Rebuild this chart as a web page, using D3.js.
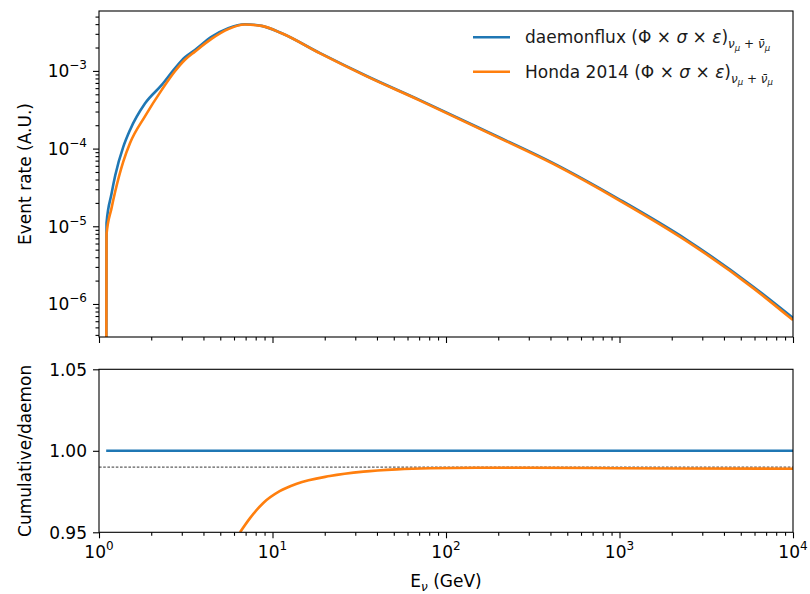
<!DOCTYPE html>
<html>
<head>
<meta charset="utf-8">
<script src="https://cdn.jsdelivr.net/npm/d3@7"></script>
<style>
  html, body { margin: 0; padding: 0; background: #fff; }
  svg { display: block; font-family: "DejaVu Sans", sans-serif; }
</style>
</head>
<body>
<svg id="chart" width="810" height="594"></svg>
<script>
// ---------------- data ----------------
const energy = [1.10, 1.105, 1.18, 1.24, 1.38, 1.51, 1.84, 2.30, 2.74, 3.13, 3.57, 4.47, 5.56, 6.94, 8.66, 11.3, 18.8, 34.9, 70.8, 171.7, 415, 1007, 2440, 5900, 10000];
const daemonRate = [1e-8, 1.1e-5, 2.6e-5, 4.5e-5, 1.05e-4, 1.74e-4, 3.8e-4, 6.6e-4, 1.08e-3, 1.5e-3, 1.86e-3, 2.76e-3, 3.55e-3, 3.98e-3, 3.8e-3, 3.05e-3, 1.69e-3, 8.6e-4, 4.2e-4, 1.66e-4, 6.5e-5, 2.19e-5, 6.7e-6, 1.67e-6, 6.6e-7];
const hondaRate  = [1e-8, 7.9e-6, 1.7e-5, 2.8e-5, 6.8e-5, 1.18e-4, 2.6e-4, 5.7e-4, 9.9e-4, 1.39e-3, 1.77e-3, 2.6e-3, 3.45e-3, 3.95e-3, 3.8e-3, 3.05e-3, 1.68e-3, 8.5e-4, 4.15e-4, 1.63e-4, 6.35e-5, 2.13e-5, 6.45e-6, 1.6e-6, 6.2e-7];

const daemonRatioEnergy = [1.10, 10000];
const daemonRatio = [1.0, 1.0];
const hondaRatioEnergy = [6.5, 7.42, 8.85, 11.0, 13.8, 21.4, 33.4, 52, 80.9, 150, 300, 1000, 10000];
const hondaRatio = [0.95, 0.9587, 0.968, 0.9752, 0.9798, 0.9845, 0.9872, 0.9886, 0.9893, 0.9896, 0.9896, 0.9893, 0.989];
const refLevel = 0.99;

const xTickExps = [0, 1, 2, 3, 4];
const yTickExps = [-6, -5, -4, -3];
const ratioTicks = [0.95, 1.00, 1.05];

const seriesNames = ["daemonflux", "Honda 2014"];
const seriesColors = ["#1f77b4", "#ff7f0e"];

// ---------------- layout ----------------
const svg = d3.select("#chart");
const L = 99, R = 793;
const topT = 11, topB = 337;
const botT = 369.3, botB = 532.3;

const x = d3.scaleLog().domain([1, 1e4]).range([L, R]);
const yTop = d3.scaleLog().domain([Math.pow(10, -6.425), Math.pow(10, -2.229)]).range([topB, topT]);
const yBot = d3.scaleLinear().domain([0.95, 1.05]).range([botB, botT]);

const fs = 17, supFs = 12;
const axisColor = "#000";

const defs = svg.append("defs");
defs.append("clipPath").attr("id", "clipTop").append("rect")
  .attr("x", L).attr("y", topT).attr("width", R - L).attr("height", topB - topT);
defs.append("clipPath").attr("id", "clipBot").append("rect")
  .attr("x", L).attr("y", botT).attr("width", R - L).attr("height", botB - botT);

const xMinor = [];
for (let e = 0; e < 4; e++) for (let m = 2; m <= 9; m++) xMinor.push(m * Math.pow(10, e));
const yMinor = [];
for (let e = -7; e <= -3; e++) for (let m = 2; m <= 9; m++) {
  const v = m * Math.pow(10, e);
  if (v >= yTop.domain()[0] && v <= yTop.domain()[1]) yMinor.push(v);
}

function styleAxis(g) {
  g.select(".domain").remove();
  g.selectAll(".tick line").attr("stroke", axisColor).attr("stroke-width", 1.1);
  g.selectAll("text").remove();
}

function supLabel(sel, exp) {
  sel.append("tspan").text("10");
  sel.append("tspan").attr("font-size", supFs).attr("dy", -8)
    .text(exp < 0 ? "\u2212" + Math.abs(exp) : String(exp));
}

// ---------------- top panel ----------------
const gTop = svg.append("g");
gTop.append("g").attr("transform", `translate(0,${topB})`)
  .call(d3.axisBottom(x).tickValues(xTickExps.map(e => Math.pow(10, e))).tickSize(6).tickFormat(""))
  .call(styleAxis);
gTop.append("g").attr("transform", `translate(0,${topB})`)
  .call(d3.axisBottom(x).tickValues(xMinor).tickSize(3.5).tickFormat(""))
  .call(styleAxis);
gTop.append("g").attr("transform", `translate(${L},0)`)
  .call(d3.axisLeft(yTop).tickValues(yTickExps.map(e => Math.pow(10, e))).tickSize(6).tickFormat(""))
  .call(styleAxis);
gTop.append("g").attr("transform", `translate(${L},0)`)
  .call(d3.axisLeft(yTop).tickValues(yMinor).tickSize(3.5).tickFormat(""))
  .call(styleAxis);
yTickExps.forEach(e => {
  const t = gTop.append("text").attr("x", L - 12).attr("y", yTop(Math.pow(10, e)) + 6.5)
    .attr("text-anchor", "end").attr("font-size", fs).attr("fill", "#000");
  supLabel(t, e);
});

const lineTop = d3.line().x(d => x(d[0])).y(d => yTop(d[1])).curve(d3.curveMonotoneX);
const topSeries = [daemonRate, hondaRate];
const plotTop = gTop.append("g").attr("clip-path", "url(#clipTop)");
topSeries.forEach((vals, i) => {
  plotTop.append("path")
    .datum(energy.map((e, k) => [e, vals[k]]))
    .attr("d", lineTop).attr("fill", "none")
    .attr("stroke", seriesColors[i]).attr("stroke-width", 2.6)
    .attr("stroke-linejoin", "round").attr("stroke-linecap", "butt");
});
gTop.append("rect").attr("x", L).attr("y", topT).attr("width", R - L).attr("height", topB - topT)
  .attr("fill", "none").attr("stroke", axisColor).attr("stroke-width", 1.1);

svg.append("text").attr("transform", `translate(31,${(topT + topB) / 2}) rotate(-90)`)
  .attr("text-anchor", "middle").attr("font-size", fs).text("Event rate (A.U.)");

// legend
const legY = [37.3, 71.7];
seriesNames.forEach((name, i) => {
  svg.append("line").attr("x1", 473).attr("x2", 510).attr("y1", legY[i]).attr("y2", legY[i])
    .attr("stroke", seriesColors[i]).attr("stroke-width", 2.6);
  const t = svg.append("text").attr("x", 525).attr("y", legY[i] + 6).attr("font-size", fs).attr("fill", "#1a1a1a");
  t.append("tspan").text(name + " (\u03A6 \u00D7 ");
  t.append("tspan").attr("font-style", "italic").text("\u03C3");
  t.append("tspan").text(" \u00D7 ");
  t.append("tspan").attr("font-style", "italic").text("\u03B5");
  t.append("tspan").text(")");
  t.append("tspan").attr("font-size", 12).attr("font-style", "italic").attr("dy", 5).text("\u03BD");
  t.append("tspan").attr("font-size", 8.5).attr("font-style", "italic").attr("dy", 2.5).text("\u03BC");
  t.append("tspan").attr("font-size", 12).attr("dy", -2.5).text(" + ");
  t.append("tspan").attr("font-size", 12).attr("font-style", "italic").text("\u03BD\u0304");
  t.append("tspan").attr("font-size", 8.5).attr("font-style", "italic").attr("dy", 2.5).text("\u03BC");
});

// ---------------- bottom panel ----------------
const gBot = svg.append("g");
gBot.append("g").attr("transform", `translate(0,${botB})`)
  .call(d3.axisBottom(x).tickValues(xTickExps.map(e => Math.pow(10, e))).tickSize(6).tickFormat(""))
  .call(styleAxis);
gBot.append("g").attr("transform", `translate(0,${botB})`)
  .call(d3.axisBottom(x).tickValues(xMinor).tickSize(3.5).tickFormat(""))
  .call(styleAxis);
xTickExps.forEach(e => {
  const t = gBot.append("text").attr("x", x(Math.pow(10, e))).attr("y", botB + 26)
    .attr("text-anchor", "middle").attr("font-size", fs).attr("fill", "#000");
  supLabel(t, e);
});
gBot.append("g").attr("transform", `translate(${L},0)`)
  .call(d3.axisLeft(yBot).tickValues(ratioTicks).tickSize(6).tickFormat(""))
  .call(styleAxis);
ratioTicks.forEach(v => {
  gBot.append("text").attr("x", L - 12).attr("y", yBot(v) + 6.3)
    .attr("text-anchor", "end").attr("font-size", fs).attr("fill", "#000").text(d3.format(".2f")(v));
});

const plotBot = gBot.append("g").attr("clip-path", "url(#clipBot)");
plotBot.append("line").attr("x1", L).attr("x2", R).attr("y1", yBot(refLevel)).attr("y2", yBot(refLevel))
  .attr("stroke", "#000").attr("stroke-width", 0.8).attr("stroke-dasharray", "2.6,1.6");
const lineBot = d3.line().x(d => x(d[0])).y(d => yBot(d[1]));
plotBot.append("path").datum(daemonRatioEnergy.map((e, k) => [e, daemonRatio[k]]))
  .attr("d", lineBot).attr("fill", "none").attr("stroke", seriesColors[0]).attr("stroke-width", 2.6);
plotBot.append("path").datum(hondaRatioEnergy.map((e, k) => [e, hondaRatio[k]]))
  .attr("d", lineBot.curve(d3.curveMonotoneX)).attr("fill", "none").attr("stroke", seriesColors[1]).attr("stroke-width", 2.6);
gBot.append("rect").attr("x", L).attr("y", botT).attr("width", R - L).attr("height", botB - botT)
  .attr("fill", "none").attr("stroke", axisColor).attr("stroke-width", 1.1);

svg.append("text").attr("transform", `translate(31,${(botT + botB) / 2}) rotate(-90)`)
  .attr("text-anchor", "middle").attr("font-size", fs).text("Cumulative/daemon");

const xl = svg.append("text").attr("x", (L + R) / 2).attr("y", 587).attr("text-anchor", "middle").attr("font-size", fs);
xl.append("tspan").text("E");
xl.append("tspan").attr("font-size", 12).attr("font-style", "italic").attr("dy", 4).text("\u03BD");
xl.append("tspan").attr("dy", -4).text(" (GeV)");
</script>
</body>
</html>
